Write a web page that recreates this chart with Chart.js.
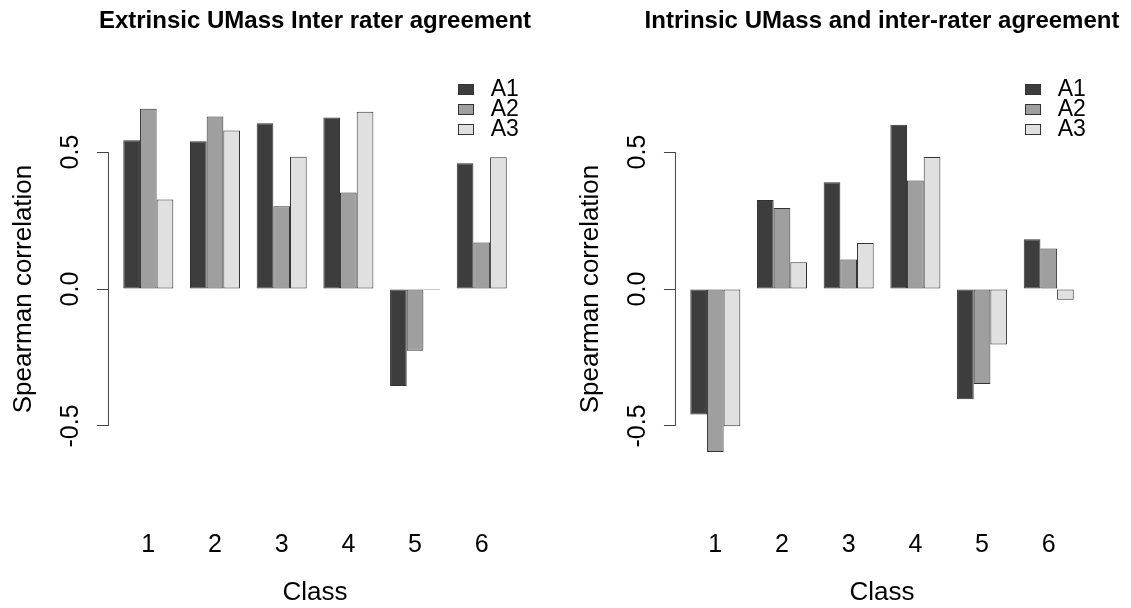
<!DOCTYPE html>
<html>
<head>
<meta charset="utf-8">
<script src="https://cdn.jsdelivr.net/npm/chart.js@4.4.1/dist/chart.umd.min.js"></script>
<style>
html,body{margin:0;padding:0;background:#fff;width:1131px;height:608px;overflow:hidden}
.panel{position:absolute;top:0;width:564px;height:608px}
</style>
</head>
<body>
<div class="panel" style="left:0"><canvas id="c1" width="564" height="608"></canvas></div>
<div class="panel" style="left:567px"><canvas id="c2" width="564" height="608"></canvas></div>
<script>
// ---- data ----
const classLabels = ['1', '2', '3', '4', '5', '6'];
const seriesNames = ['A1', 'A2', 'A3'];
const yTickValues = [-0.5, 0, 0.5];
const yTickLabels = ['-0.5', '0.0', '0.5'];
const xTitle = 'Class';
const yTitle = 'Spearman correlation';
const leftTitle = 'Extrinsic UMass Inter rater agreement';
const rightTitle = 'Intrinsic UMass and inter-rater agreement';

const extrinsicA1 = [0.543, 0.539, 0.605, 0.626, -0.354, 0.459];
const extrinsicA2 = [0.658, 0.630, 0.302, 0.352, -0.225, 0.170];
const extrinsicA3 = [0.327, 0.579, 0.483, 0.647, -0.003, 0.481];

const intrinsicA1 = [-0.458, 0.325, 0.390, 0.600, -0.402, 0.182];
const intrinsicA2 = [-0.595, 0.296, 0.108, 0.396, -0.347, 0.148];
const intrinsicA3 = [-0.501, 0.098, 0.168, 0.482, -0.203, -0.039];

const seriesColors = ['#3d3d3d', '#9f9f9f', '#e0e0e0'];

// ---- rendering ----
Chart.defaults.font.family = '"Liberation Sans", Arial, Helvetica, sans-serif';
Chart.defaults.color = '#000';

const TICK_FONT = 25;
const LAB_FONT = 26;
const PLOT_LEFT = 107.95;
const PLOT_RIGHT_PAD = 41.9;
const X_AXIS_H = 97.1;

const axisLinePlugin = {
  id: 'rAxisLine',
  afterLayout(chart) {
    // let the (centred) main title use more than the plot width, as R does
    const t = chart.titleBlock;
    if (t) { t.left -= 80; t.right += 80; }
  },
  afterDraw(chart) {
    const y = chart.scales.y, ctx = chart.ctx;
    const x = chart.chartArea.left;
    ctx.save();
    ctx.strokeStyle = '#444';
    ctx.lineWidth = 1;
    ctx.beginPath();
    ctx.moveTo(x + 0.5, y.getPixelForValue(yTickValues[0]));
    ctx.lineTo(x + 0.5, y.getPixelForValue(yTickValues[yTickValues.length - 1]));
    ctx.stroke();
    ctx.restore();
  }
};

const legendPlugin = {
  id: 'rLegend',
  afterDraw(chart) {
    const ctx = chart.ctx, ca = chart.chartArea;
    ctx.save();
    ctx.font = '23px "Liberation Sans", Arial, sans-serif';
    ctx.textBaseline = 'middle';
    ctx.textAlign = 'left';
    chart.data.datasets.forEach((ds, i) => {
      const cy = ca.top + 22.6 + i * 20;
      const bx = Math.round(ca.right - 64.6);
      ctx.fillStyle = ds.backgroundColor;
      ctx.fillRect(bx, Math.round(cy - 5.5), 16, 11);
      ctx.strokeStyle = '#333';
      ctx.lineWidth = 1;
      ctx.strokeRect(bx + 0.5, Math.round(cy - 5.5) + 0.5, 15, 10);
      ctx.fillStyle = '#000';
      ctx.fillText(ds.label, ca.right - 31.4, cy);
    });
    ctx.restore();
  }
};

function makeChart(id, title, a1, a2, a3) {
  const series = [a1, a2, a3];
  new Chart(document.getElementById(id), {
    type: 'bar',
    data: {
      datasets: series.map((arr, k) => ({
        label: seriesNames[k],
        data: classLabels.map((_, i) => ({x: i, y: arr[i]})),
        backgroundColor: seriesColors[k],
        borderColor: '#333',
        borderWidth: 1,
        borderSkipped: false,
        minBarLength: 1,
        categoryPercentage: 0.75,
        barPercentage: 1.0
      }))
    },
    options: {
      responsive: false,
      animation: false,
      devicePixelRatio: 1,
      layout: {padding: {left: 0, right: PLOT_RIGHT_PAD, top: 0, bottom: 0}},
      plugins: {
        legend: {display: false},
        tooltip: {enabled: false},
        title: {
          display: true,
          text: title,
          fullSize: false,
          color: '#000',
          font: {size: 24, weight: 'bold', lineHeight: 1.2},
          padding: {top: 6.6, bottom: 31.7}
        }
      },
      scales: {
        x: {
          type: 'linear',
          offset: false,
          min: -0.605,
          max: 5.605,
          afterBuildTicks(scale) { scale.ticks = classLabels.map((_, i) => ({value: i})); },
          afterFit(scale) { scale.height = X_AXIS_H; },
          grid: {display: false, drawTicks: false, offset: false},
          border: {display: false},
          ticks: {
            autoSkip: false,
            maxRotation: 0,
            padding: 19.1,
            font: {size: TICK_FONT, lineHeight: 1.2},
            color: '#000',
            callback: (v) => classLabels[Math.round(v)]
          },
          title: {display: true, text: xTitle, font: {size: LAB_FONT, lineHeight: 1.15}, color: '#000', padding: {top: 0, bottom: 0}}
        },
        y: {
          min: -0.81,
          max: 0.81,
          afterBuildTicks(scale) { scale.ticks = yTickValues.map(v => ({value: v})); },
          afterFit(scale) { scale.width = PLOT_LEFT; },
          grid: {display: true, drawOnChartArea: false, drawTicks: true, tickLength: 11, color: '#444', lineWidth: 1},
          border: {display: false},
          ticks: {
            minRotation: 90,
            maxRotation: 90,
            crossAlign: 'center',
            padding: 4.8,
            font: {size: TICK_FONT},
            color: '#000',
            callback: (v) => yTickLabels[yTickValues.indexOf(v)]
          },
          title: {display: true, text: yTitle, font: {size: LAB_FONT, lineHeight: 1.2}, color: '#000', padding: {top: 8.4, bottom: 0}}
        }
      }
    },
    plugins: [axisLinePlugin, legendPlugin]
  });
}

makeChart('c1', leftTitle, extrinsicA1, extrinsicA2, extrinsicA3);
makeChart('c2', rightTitle, intrinsicA1, intrinsicA2, intrinsicA3);
</script>
</body>
</html>
